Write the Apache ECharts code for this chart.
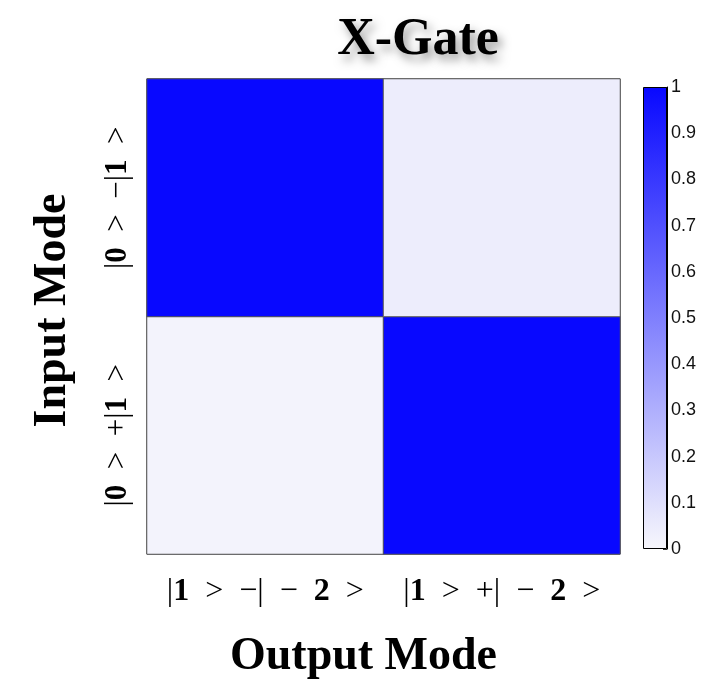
<!DOCTYPE html>
<html>
<head>
<meta charset="utf-8">
<script src="https://cdn.jsdelivr.net/npm/echarts@6/dist/echarts.min.js"></script>
<style>
  html, body { margin: 0; padding: 0; background: #fff; }
  #main { width: 728px; height: 692px; }
</style>
</head>
<body>
<div id="main"></div>
<script>
    // data
    var outputModes = ['|1 > −| − 2 >', '|1 > +| − 2 >'];
    var inputModes = ['|0 > +|1 >', '|0 > −|1 >'];   // bottom to top
    // [outputIndex, inputIndex, value]
    var cellValues = [
        [0, 0, 0.015],
        [0, 1, 1.00],
        [1, 0, 1.00],
        [1, 1, 0.04]
    ];
    var barTicks = [0, 0.1, 0.2, 0.3, 0.4, 0.5, 0.6, 0.7, 0.8, 0.9, 1];
    var barValue = [1];

    var lowColor = '#f7f7fc';
    var highColor = '#0808ff';
    var serif = '"Liberation Serif", "DejaVu Serif", serif';

    // bold the numbers in the ket labels, math-style spacing
    function ket(s) {
        return s.replace(/ /g, '\u2002').replace(/(\d)/g, '{b|$1}');
    }

    var myChart = echarts.init(document.getElementById('main'));
    myChart.setOption({
        backgroundColor: '#fff',
        animation: false,
        title: {
            text: 'X-Gate',
            left: 413,
            top: 10,
            textAlign: 'center',
            textStyle: {
                fontFamily: serif,
                fontWeight: 'bold',
                fontSize: 52,
                color: '#000',
                textShadowColor: 'rgba(0,0,0,0.4)',
                textShadowBlur: 10,
                textShadowOffsetX: 4,
                textShadowOffsetY: 6
            }
        },
        grid: [
            {left: 147, top: 79, width: 473, height: 475,
             show: true, borderColor: '#333', borderWidth: 1, backgroundColor: 'transparent'},
            {left: 643, top: 87, width: 24, height: 462}
        ],
        visualMap: {
            show: false,
            min: 0,
            max: 1,
            seriesIndex: 0,
            inRange: {color: [lowColor, highColor]}
        },
        xAxis: [
            {
                gridIndex: 0,
                type: 'category',
                data: outputModes,
                name: 'Output Mode',
                nameLocation: 'middle',
                nameGap: 80,
                nameTextStyle: {fontFamily: serif, fontWeight: 'bold', fontSize: 46, color: '#000',
                                padding: [0, 40, 0, 0]},
                axisLine: {show: false},
                axisTick: {show: false},
                splitLine: {show: false},
                axisLabel: {
                    interval: 0,
                    margin: 22,
                    fontFamily: serif,
                    fontSize: 32,
                    color: '#000',
                    formatter: ket,
                    rich: {b: {fontFamily: serif, fontWeight: 'bold', fontSize: 32, color: '#000'}}
                }
            },
            {
                gridIndex: 1,
                type: 'category',
                data: ['c'],
                show: false
            }
        ],
        yAxis: [
            {
                gridIndex: 0,
                type: 'category',
                data: inputModes,
                name: 'Input Mode',
                nameLocation: 'middle',
                nameGap: 71,
                nameRotate: 90,
                nameTextStyle: {fontFamily: serif, fontWeight: 'bold', fontSize: 46, color: '#000',
                                padding: [0, 0, 0, 12]},
                axisLine: {show: false},
                axisTick: {show: false},
                splitLine: {show: false},
                axisLabel: {
                    interval: 0,
                    rotate: 90,
                    margin: 14,
                    fontFamily: serif,
                    fontSize: 31,
                    color: '#000',
                    formatter: ket,
                    rich: {b: {fontFamily: serif, fontWeight: 'bold', fontSize: 31, color: '#000'}}
                }
            },
            {
                gridIndex: 1,
                type: 'value',
                position: 'right',
                min: barTicks[0],
                max: barTicks[barTicks.length - 1],
                interval: 0.1,
                axisLine: {show: true, lineStyle: {color: '#000', width: 1}},
                axisTick: {show: true, inside: true, length: 4, lineStyle: {color: '#333'}},
                splitLine: {show: false},
                axisLabel: {
                    margin: 4,
                    fontFamily: '"Liberation Sans", Arial, sans-serif',
                    fontSize: 18,
                    color: '#111',
                    formatter: function (v) { return String(Math.round(v * 10) / 10); }
                }
            }
        ],
        series: [
            {
                type: 'heatmap',
                xAxisIndex: 0,
                yAxisIndex: 0,
                data: cellValues,
                itemStyle: {borderColor: '#555', borderWidth: 1}
            },
            {
                type: 'bar',
                xAxisIndex: 1,
                yAxisIndex: 1,
                data: barValue,
                barWidth: '100%',
                silent: true,
                itemStyle: {
                    borderColor: '#000',
                    borderWidth: 1,
                    color: new echarts.graphic.LinearGradient(0, 0, 0, 1, [
                        {offset: 0, color: highColor},
                        {offset: 1, color: lowColor}
                    ])
                }
            }
        ]
    });
</script>
</body>
</html>
